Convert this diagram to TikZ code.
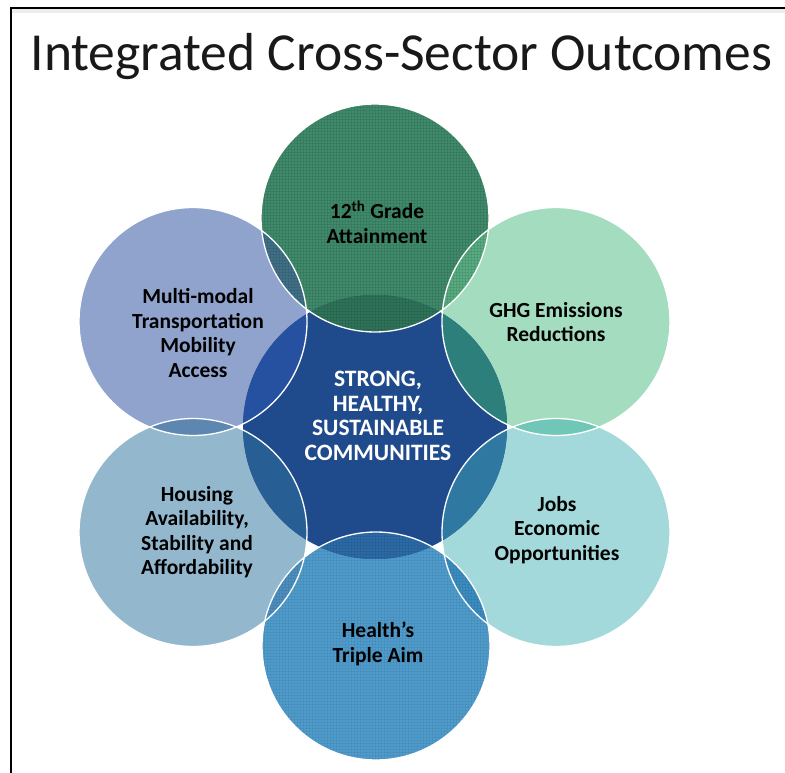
\documentclass[tikz,border=0pt]{standalone}
\usepackage{fontspec}
\setmainfont{Carlito}
\usetikzlibrary{patterns}

\definecolor{hubblue}{HTML}{1F4A8C}
\definecolor{gradegreen}{HTML}{3F8A6A}
\definecolor{ghggreen}{HTML}{A3DCBF}
\definecolor{jobsteal}{HTML}{A3D9DA}
\definecolor{healthblue}{HTML}{4F9CCC}
\definecolor{housingblue}{HTML}{93B8CD}
\definecolor{transitblue}{HTML}{8FA3CC}
\definecolor{gradehub}{HTML}{2E7459}
\definecolor{ghghub}{HTML}{2D7F7B}
\definecolor{jobshub}{HTML}{2E78A2}
\definecolor{healthhub}{HTML}{2C6AA6}
\definecolor{housinghub}{HTML}{275E94}
\definecolor{transithub}{HTML}{2651A0}
\definecolor{transitgrade}{HTML}{3F7086}
\definecolor{gradeghg}{HTML}{57AB80}
\definecolor{ghgjobs}{HTML}{70C6B7}
\definecolor{jobshealth}{HTML}{3B8CC0}
\definecolor{healthhousing}{HTML}{4C8FBE}
\definecolor{housingtransit}{HTML}{5D87B1}

\begin{document}
\begin{tikzpicture}[x=1pt,y=-1pt,
        ring-node/.style={circle,minimum size=228pt,inner sep=0pt},
        hub-node/.style={circle,minimum size=264pt,inner sep=0pt,fill=hubblue},
        text-node/.style={align=center,font=\bfseries\fontsize{21.5}{24.5}\selectfont},
    ]
    \useasboundingbox (0,0) rectangle (785,773);
    \fill[white] (0,0) rectangle (785,773);
    \fill[black!7] (11,9) rectangle (785,13);
    \draw[line width=2pt] (11,773) -- (11,8) -- (785,8);

    \node[anchor=base west,text=black!90,font=\fontsize{53.5}{60}\selectfont] (title) at (27,71) {Integrated Cross-Sector Outcomes};

    \node[ring-node,fill=gradegreen] (grade) at (375,218) {};
    \node[ring-node,fill=ghggreen] (ghg) at (556,321.5) {};
    \node[ring-node,fill=jobsteal] (jobs) at (556,532.5) {};
    \node[ring-node,fill=healthblue] (health) at (376,646) {};
    \node[ring-node,fill=housingblue] (housing) at (193,532.5) {};
    \node[ring-node,fill=transitblue] (transit) at (193,321.5) {};
    \node[hub-node] (hub) at (375,427) {};

    \foreach \ring in {grade,ghg,jobs,health,housing,transit} {
        \begin{scope}
            \clip (hub.center) circle (132pt);
            \fill[\ring hub] (\ring.center) circle (114pt);
        \end{scope}
    }
    \foreach \a/\b in {transit/grade,grade/ghg,ghg/jobs,jobs/health,health/housing,housing/transit} {
        \begin{scope}
            \clip (\a.center) circle (114pt);
            \fill[\a\b] (\b.center) circle (114pt);
        \end{scope}
    }

    \fill[pattern=grid,pattern color=black,opacity=0.08] (grade.center) circle (114pt);
    \fill[pattern=grid,pattern color=black,opacity=0.06] (health.center) circle (114pt);

    \foreach \ring in {grade,ghg,jobs,health,housing,transit}
        \draw[white,line width=1.3pt] (\ring.center) circle (114pt);

    \node[text-node] (grade-text) at (377,222) {12\textsuperscript{th} Grade\\Attainment};
    \node[text-node] (ghg-text) at (556,322) {GHG Emissions\\Reductions};
    \node[text-node] (jobs-text) at (557,530) {Jobs\\Economic\\Opportunities};
    \node[text-node] (health-text) at (378,644) {Health's\\Triple Aim};
    \node[text-node] (housing-text) at (197,532) {Housing\\Availability,\\Stability and\\Affordability};
    \node[text-node] (transit-text) at (198,333) {Multi-modal\\Transportation\\Mobility\\Access};
    \node[text-node,text=white,font=\bfseries\fontsize{23.5}{24.5}\selectfont] (hub-text) at (378,416) {STRONG,\\HEALTHY,\\SUSTAINABLE\\COMMUNITIES};
\end{tikzpicture}
\end{document}
